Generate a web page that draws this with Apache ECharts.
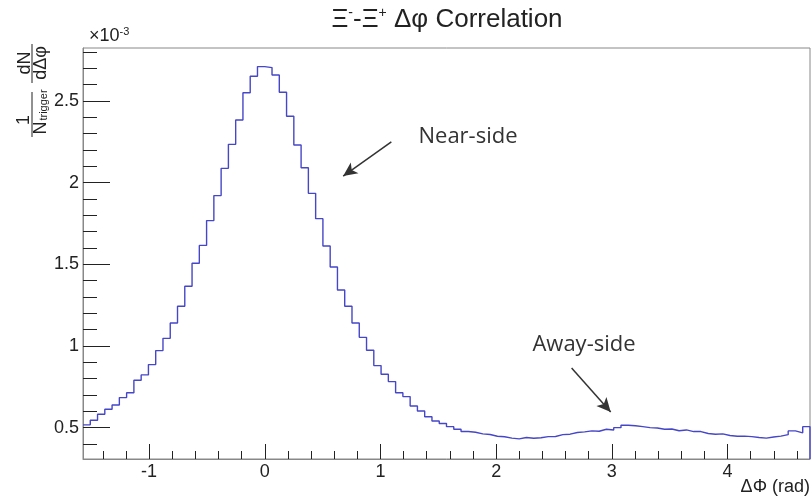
<!DOCTYPE html>
<html><head><meta charset="utf-8">
<script src="https://cdn.jsdelivr.net/npm/echarts@6/dist/echarts.min.js"></script>
<style>html,body{margin:0;padding:0;background:#fff}#c{width:812px;height:502px}</style>
</head><body><div id="c"></div>
<script>
// Histogram contents (units of 1e-3), 100 bins from -pi/2 to 3pi/2
const binValues = [
  0.517, 0.545, 0.582, 0.613, 0.639, 0.684, 0.714, 0.790, 0.823, 0.886,
  0.972, 1.047, 1.141, 1.243, 1.366, 1.507, 1.616, 1.768, 1.921, 2.088,
  2.235, 2.384, 2.551, 2.652, 2.711, 2.705, 2.660, 2.554, 2.407, 2.231,
  2.092, 1.935, 1.780, 1.612, 1.484, 1.343, 1.243, 1.141, 1.053, 0.974,
  0.880, 0.827, 0.782, 0.714, 0.690, 0.633, 0.602, 0.567, 0.541, 0.525,
  0.506, 0.490, 0.476, 0.472, 0.462, 0.458, 0.447, 0.444, 0.436, 0.431,
  0.440, 0.435, 0.438, 0.445, 0.446, 0.457, 0.460, 0.470, 0.474, 0.480,
  0.478, 0.490, 0.486, 0.500, 0.515, 0.512, 0.506, 0.500, 0.498, 0.490,
  0.492, 0.481, 0.486, 0.476, 0.476, 0.464, 0.460, 0.462, 0.452, 0.447,
  0.448, 0.445, 0.440, 0.436, 0.443, 0.448, 0.457, 0.480, 0.468, 0.506
];
const xMajorTicks = [-1, 0, 1, 2, 3, 4];
const xMinorTicks = [-1.4, -1.2, -0.8, -0.6, -0.4, -0.2, 0.2, 0.4, 0.6, 0.8, 1.2, 1.4, 1.6, 1.8,
  2.2, 2.4, 2.6, 2.8, 3.2, 3.4, 3.6, 3.8, 4.2, 4.4, 4.6];
const yMajorTicks = [0.5, 1, 1.5, 2, 2.5];
const yMinorTicks = [0.4, 0.6, 0.7, 0.8, 0.9, 1.1, 1.2, 1.3, 1.4, 1.6, 1.7, 1.8, 1.9,
  2.1, 2.2, 2.3, 2.4, 2.6, 2.7, 2.8];
const annotationLabels = ['Near-side', 'Away-side'];

const X_MIN = -Math.PI / 2, X_MAX = 3 * Math.PI / 2;
const Y_MIN = 0.308, Y_MAX = 2.825;
const nb = binValues.length;
const bw = (X_MAX - X_MIN) / nb;
const histData = binValues.map((v, i) => [X_MIN + i * bw, v]);
histData.push([X_MAX, binValues[nb - 1]]);
histData.push([X_MAX, Y_MIN]);

const FONT = '"Liberation Sans", Arial, sans-serif';
const TXT = '#222';
const chart = echarts.init(document.getElementById('c'), null, {renderer: 'canvas'});

function xAxisDef(ticks, len, labels) {
  return {
    type: 'value', min: X_MIN, max: X_MAX, position: 'bottom', offset: 0,
    axisLine: {show: labels, onZero: false, lineStyle: {color: '#888', width: 1}},
    axisTick: {show: true, inside: true, length: len, customValues: ticks, lineStyle: {color: '#222', width: 1}},
    axisLabel: labels ? {show: true, customValues: ticks, fontSize: 18, fontFamily: FONT, color: TXT, margin: 4} : {show: false},
    splitLine: {show: false}
  };
}
function yAxisDef(ticks, len, labels) {
  return {
    type: 'value', min: Y_MIN, max: Y_MAX, position: 'left', offset: 0,
    axisLine: {show: labels, onZero: false, lineStyle: {color: '#888', width: 1}},
    axisTick: {show: true, inside: true, length: len, customValues: ticks, lineStyle: {color: '#222', width: 1}},
    axisLabel: labels ? {show: true, customValues: ticks, fontSize: 18, fontFamily: FONT, color: TXT, margin: 4} : {show: false},
    splitLine: {show: false}
  };
}

const option = {
  animation: false,
  backgroundColor: '#fff',
  grid: {left: 83, top: 48, width: 727, height: 411, show: true, borderColor: '#888', borderWidth: 1, containLabel: false},
  xAxis: [xAxisDef(xMajorTicks, 15, true), xAxisDef(xMinorTicks, 8, false)],
  yAxis: [yAxisDef(yMajorTicks, 27, true), yAxisDef(yMinorTicks, 14, false)],
  series: [{
    type: 'line', xAxisIndex: 0, yAxisIndex: 0, step: 'end', showSymbol: false, symbol: 'none',
    data: histData,
    lineStyle: {color: '#4646c8', width: 1.4},
    markLine: {
      silent: true, animation: false,
      symbol: ['none', 'arrow'], symbolSize: [10, 14],
      label: {show: false},
      lineStyle: {color: '#333', width: 1.5, type: 'solid'},
      data: [
        [{coord: [1.094, 2.25]}, {coord: [0.678, 2.041]}],
        [{coord: [2.652, 0.866]}, {coord: [2.99, 0.596]}]
      ]
    }
  }],
  graphic: [
    {type: 'text', x: 447, y: 20, style: {
      text: 'Ξ{s|-}-Ξ{s|+} Δφ Correlation', fontSize: 26, fontFamily: FONT, fill: TXT,
      align: 'center', verticalAlign: 'middle',
      rich: {s: {fontSize: 14, fontFamily: FONT, fill: TXT, verticalAlign: 'top', lineHeight: 28}}
    }},
    {type: 'text', x: 89, y: 36, style: {
      text: '×10{s|-3}', fontSize: 18, fontFamily: FONT, fill: TXT, align: 'left', verticalAlign: 'middle',
      rich: {s: {fontSize: 11, fontFamily: FONT, fill: TXT, verticalAlign: 'top', lineHeight: 20}}
    }},
    {type: 'text', x: 810, y: 487, style: {text: 'ΔΦ (rad)', fontSize: 18, fontFamily: FONT, fill: TXT, align: 'right', verticalAlign: 'middle'}},
    // y-axis title (rotated)
    {type: 'text', x: 24, y: 120, rotation: Math.PI / 2, style: {text: '1', fontSize: 18, fontFamily: FONT, fill: TXT, align: 'center', verticalAlign: 'middle'}},
    {type: 'line', shape: {x1: 32, y1: 92, x2: 32, y2: 137}, style: {stroke: TXT, lineWidth: 1}},
    {type: 'text', x: 41, y: 128, rotation: Math.PI / 2, style: {text: 'N', fontSize: 18, fontFamily: FONT, fill: TXT, align: 'center', verticalAlign: 'middle'}},
    {type: 'text', x: 44, y: 105, rotation: Math.PI / 2, style: {text: 'trigger', fontSize: 11, fontFamily: FONT, fill: TXT, align: 'center', verticalAlign: 'middle'}},
    {type: 'text', x: 25, y: 63, rotation: Math.PI / 2, style: {text: 'dN', fontSize: 18, fontFamily: FONT, fill: TXT, align: 'center', verticalAlign: 'middle'}},
    {type: 'line', shape: {x1: 32, y1: 44, x2: 32, y2: 83}, style: {stroke: TXT, lineWidth: 1}},
    {type: 'text', x: 41, y: 63, rotation: Math.PI / 2, style: {text: 'dΔφ', fontSize: 18, fontFamily: FONT, fill: TXT, align: 'center', verticalAlign: 'middle'}},
    // annotations
    {type: 'text', x: 468, y: 137, style: {text: annotationLabels[0], fontSize: 22, fontFamily: '"Open Sans", sans-serif', fill: '#333', align: 'center', verticalAlign: 'middle'}},
    {type: 'text', x: 584, y: 345, style: {text: annotationLabels[1], fontSize: 22, fontFamily: '"Open Sans", sans-serif', fill: '#333', align: 'center', verticalAlign: 'middle'}}
  ]
};
chart.setOption(option);
</script>
</body></html>
